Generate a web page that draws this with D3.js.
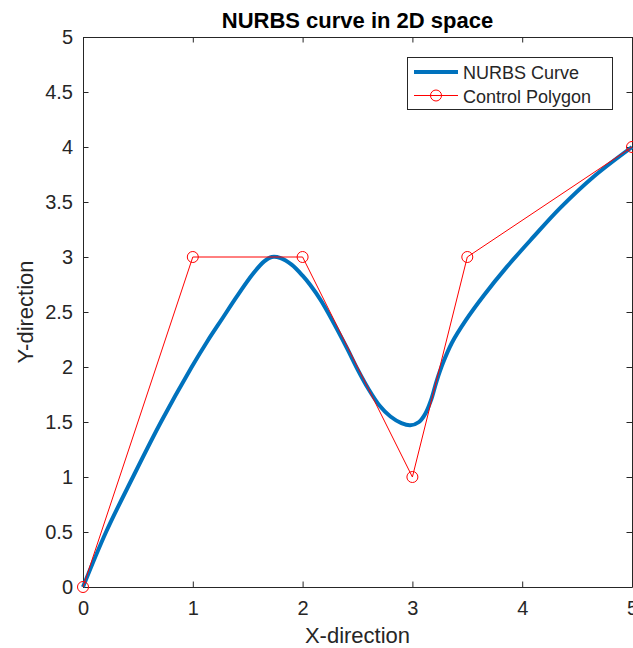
<!DOCTYPE html>
<html>
<head>
<meta charset="utf-8">
<script src="https://cdn.jsdelivr.net/npm/d3@7"></script>
<style>
body { margin: 0; background: #fff; }
text { font-family: "Liberation Sans", Arial, Helvetica, sans-serif; fill: #262626; }
</style>
</head>
<body>
<div id="chart"></div>
<script>
// control polygon
var ctrlX = [0, 1, 2, 3, 3.5, 5]
var ctrlY = [0, 3, 3, 1, 3, 4]

// NURBS curve, points
var curveX = [0, 0.21, 0.455, 0.71, 0.99, 1.13, 1.275, 1.4, 1.55, 1.65, 1.72, 1.8, 1.9, 2.0, 2.07, 2.17, 2.4, 2.5, 2.6, 2.7, 2.8, 2.9, 2.98, 3.06, 3.12, 3.17, 3.22, 3.28, 3.36, 3.49, 3.65, 3.86, 4.1, 4.34, 4.65, 5.0]
var curveY = [0, 0.5, 1.0, 1.5, 2.0, 2.23, 2.45, 2.64, 2.85, 2.96, 3.0, 2.99, 2.93, 2.83, 2.745, 2.6, 2.18, 1.98, 1.8, 1.65, 1.55, 1.49, 1.47, 1.50, 1.58, 1.70, 1.87, 2.04, 2.22, 2.43, 2.65, 2.91, 3.18, 3.44, 3.73, 4.0]

var xTicks = [0, 1, 2, 3, 4, 5]
var xTickLabels = ["0", "1", "2", "3", "4", "5"]
var yTicks = [0, 0.5, 1, 1.5, 2, 2.5, 3, 3.5, 4, 4.5, 5]
var yTickLabels = ["0", "0.5", "1", "1.5", "2", "2.5", "3", "3.5", "4", "4.5", "5"]

var svgWidth = 633
var svgHeight = 648

var margin = {top: 37, bottom: 61, left: 83, right: 1}
var chartWidth = svgWidth - margin.left - margin.right
var chartHeight = svgHeight - margin.top - margin.bottom

var svg = d3.select("#chart")
    .append("svg")
    .attr("width", svgWidth)
    .attr("height", svgHeight)

var chartGroup = svg.append("g")
    .attr("transform", `translate(${margin.left}, ${margin.top})`)

var xScale = d3.scaleLinear().domain([0, 5]).range([0, chartWidth])
var yScale = d3.scaleLinear().domain([0, 5]).range([chartHeight, 0])

var tickLen = 5.5
var axisColor = "#262626"

function styleAxis(g) {
    g.select(".domain").attr("stroke", axisColor)
    g.selectAll(".tick line").attr("stroke", axisColor)
    g.selectAll(".tick text")
        .attr("fill", axisColor)
        .style("font-family", '"Liberation Sans", Arial, Helvetica, sans-serif')
        .style("font-size", "20px")
}

chartGroup.append("g")
    .attr("transform", `translate(0, ${chartHeight})`)
    .call(d3.axisBottom(xScale).tickValues(xTicks).tickFormat((d, i) => xTickLabels[i])
        .tickSizeInner(-tickLen).tickSizeOuter(0).tickPadding(14))
    .call(styleAxis)

chartGroup.append("g")
    .call(d3.axisTop(xScale).tickValues(xTicks).tickFormat("")
        .tickSizeInner(-tickLen).tickSizeOuter(0))
    .call(styleAxis)

chartGroup.append("g")
    .call(d3.axisLeft(yScale).tickValues(yTicks).tickFormat((d, i) => yTickLabels[i])
        .tickSizeInner(-tickLen).tickSizeOuter(0).tickPadding(10))
    .call(styleAxis)

chartGroup.append("g")
    .attr("transform", `translate(${chartWidth}, 0)`)
    .call(d3.axisRight(yScale).tickValues(yTicks).tickFormat("")
        .tickSizeInner(-tickLen).tickSizeOuter(0))
    .call(styleAxis)

// curve
var curveData = curveX.map((x, i) => ({x: x, y: curveY[i]}))
var ctrlData = ctrlX.map((x, i) => ({x: x, y: ctrlY[i]}))

var line = d3.line()
    .x(d => xScale(d.x))
    .y(d => yScale(d.y))

chartGroup.append("path")
    .datum(curveData)
    .attr("d", line.curve(d3.curveCatmullRom.alpha(0.5)))
    .attr("fill", "none")
    .attr("stroke", "#0072BD")
    .attr("stroke-width", 4)

chartGroup.append("path")
    .datum(ctrlData)
    .attr("d", d3.line().x(d => xScale(d.x)).y(d => yScale(d.y)))
    .attr("fill", "none")
    .attr("stroke", "#FF0000")
    .attr("stroke-width", 1)

chartGroup.selectAll("circle.ctrl")
    .data(ctrlData)
    .enter()
    .append("circle")
    .attr("class", "ctrl")
    .attr("cx", d => xScale(d.x))
    .attr("cy", d => yScale(d.y))
    .attr("r", 5.5)
    .attr("fill", "none")
    .attr("stroke", "#FF0000")
    .attr("stroke-width", 1)

// legend
var legend = svg.append("g")
legend.append("rect")
    .attr("x", 407.5).attr("y", 57.5)
    .attr("width", 205).attr("height", 52)
    .attr("fill", "#fff")
    .attr("stroke", axisColor)
    .attr("stroke-width", 1)

legend.append("line")
    .attr("x1", 414).attr("x2", 458).attr("y1", 72).attr("y2", 72)
    .attr("stroke", "#0072BD").attr("stroke-width", 4)
legend.append("text")
    .attr("x", 463).attr("y", 78.5)
    .style("font-size", "18px")
    .text("NURBS Curve")

legend.append("line")
    .attr("x1", 414).attr("x2", 458).attr("y1", 95.5).attr("y2", 95.5)
    .attr("stroke", "#FF0000").attr("stroke-width", 1)
legend.append("circle")
    .attr("cx", 436).attr("cy", 95.5).attr("r", 5.5)
    .attr("fill", "none").attr("stroke", "#FF0000")
legend.append("text")
    .attr("x", 463).attr("y", 102.5)
    .style("font-size", "18px")
    .text("Control Polygon")

// titles
svg.append("text")
    .attr("x", margin.left + chartWidth / 2)
    .attr("y", 28)
    .attr("text-anchor", "middle")
    .style("font-size", "22px")
    .style("font-weight", "bold")
    .style("fill", "#000")
    .text("NURBS curve in 2D space")

svg.append("text")
    .attr("x", margin.left + chartWidth / 2)
    .attr("y", 643)
    .attr("text-anchor", "middle")
    .style("font-size", "22px")
    .text("X-direction")

svg.append("text")
    .attr("transform", `translate(33, ${margin.top + chartHeight / 2}) rotate(-90)`)
    .attr("text-anchor", "middle")
    .style("font-size", "22px")
    .text("Y-direction")
</script>
</body>
</html>
